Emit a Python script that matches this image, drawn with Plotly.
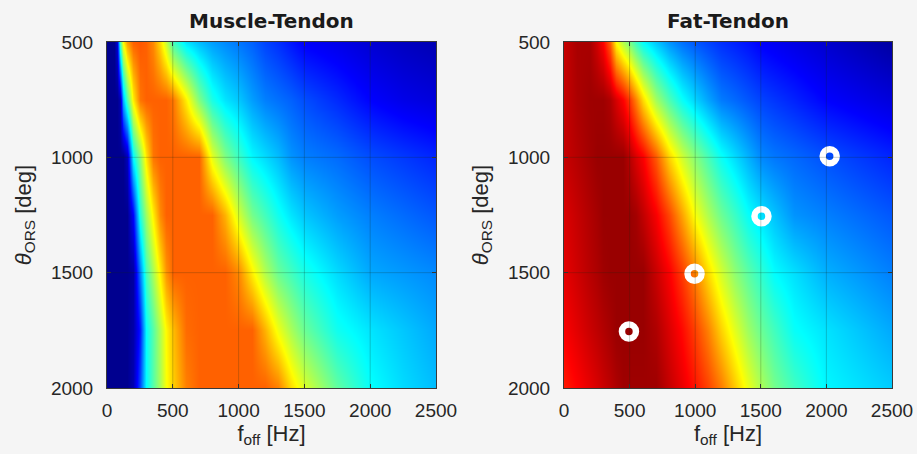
import plotly.graph_objects as go

# ---------------- data ----------------
theta_rows = [500, 750, 1000, 1250, 1500, 1750, 2000]

# Muscle-Tendon (normalized colour value 0..1 on a jet scale)
mt_f = [0, 50, 75, 100, 125, 150, 200, 250, 300, 350, 400, 450, 500, 600, 700,
        800, 900, 1000, 1100, 1200, 1300, 1400, 1500, 1750, 2000, 2250, 2500]
mt_500 = [0, 0, 0.08, 0.45, 0.63, 0.72, 0.78, 0.79, 0.78, 0.74, 0.66, 0.57, 0.44, 0.35, 0.31,
          0.28, 0.26, 0.24, 0.22, 0.19, 0.17, 0.145, 0.12, 0.10, 0.075, 0.055, 0.04]
mt_750 = [0, 0, 0, 0.04, 0.30, 0.45, 0.64, 0.76, 0.78, 0.78, 0.78, 0.78, 0.76, 0.64, 0.50,
          0.40, 0.35, 0.32, 0.28, 0.25, 0.235, 0.22, 0.20, 0.165, 0.125, 0.10, 0.085]
mt_1000 = [0, 0, 0, 0, 0, 0.05, 0.375, 0.51, 0.65, 0.76, 0.78, 0.78, 0.78, 0.78, 0.78,
           0.60, 0.50, 0.43, 0.37, 0.34, 0.31, 0.27, 0.25, 0.23, 0.20, 0.18, 0.16]
mt_1250 = [0, 0, 0, 0, 0, 0, 0.125, 0.41, 0.53, 0.64, 0.74, 0.78, 0.78, 0.78, 0.78,
           0.78, 0.70, 0.58, 0.49, 0.44, 0.39, 0.35, 0.32, 0.28, 0.25, 0.23, 0.21]
mt_1500 = [0, 0, 0, 0, 0, 0, 0.02, 0.25, 0.44, 0.54, 0.64, 0.73, 0.78, 0.78, 0.78,
           0.78, 0.78, 0.74, 0.64, 0.55, 0.48, 0.44, 0.40, 0.34, 0.29, 0.275, 0.26]
mt_1750 = [0, 0, 0, 0, 0, 0, 0.03, 0.15, 0.375, 0.46, 0.55, 0.63, 0.69, 0.77, 0.78,
           0.78, 0.78, 0.78, 0.78, 0.70, 0.61, 0.54, 0.48, 0.39, 0.35, 0.32, 0.29]
mt_2000 = [0, 0, 0, 0, 0, 0, 0.04, 0.20, 0.375, 0.46, 0.54, 0.62, 0.67, 0.75, 0.78,
           0.78, 0.78, 0.78, 0.78, 0.78, 0.75, 0.66, 0.59, 0.47, 0.38, 0.34, 0.31]

# Fat-Tendon
ft_f = [0, 100, 200, 250, 300, 350, 400, 450, 500, 550, 600, 700, 800, 900, 1000,
        1100, 1200, 1300, 1400, 1500, 1600, 1750, 2000, 2250, 2500]
ft_500 = [0.93, 0.96, 0.96, 0.92, 0.875, 0.78, 0.625, 0.55, 0.49, 0.43, 0.375, 0.32, 0.27,
          0.235, 0.21, 0.19, 0.17, 0.155, 0.14, 0.12, 0.11, 0.095, 0.07, 0.045, 0.02]
ft_750 = [0.93, 0.957, 0.97, 0.97, 0.97, 0.954, 0.915, 0.875, 0.816, 0.746, 0.659, 0.534,
          0.451, 0.382, 0.333, 0.287, 0.246, 0.228, 0.209, 0.19, 0.177, 0.158, 0.125, 0.105, 0.085]
ft_1000 = [0.93, 0.948, 0.966, 0.975, 0.975, 0.975, 0.975, 0.975, 0.943, 0.91, 0.878, 0.787,
           0.667, 0.579, 0.507, 0.445, 0.384, 0.34, 0.299, 0.258, 0.242, 0.227, 0.203, 0.181, 0.16]
ft_1250 = [0.91, 0.932, 0.953, 0.964, 0.975, 0.975, 0.975, 0.975, 0.975, 0.964, 0.936, 0.881,
           0.807, 0.715, 0.618, 0.546, 0.482, 0.431, 0.38, 0.347, 0.316, 0.27, 0.25, 0.23, 0.21]
ft_1500 = [0.90, 0.923, 0.946, 0.957, 0.969, 0.975, 0.975, 0.975, 0.975, 0.975, 0.975, 0.929,
           0.88, 0.818, 0.746, 0.659, 0.583, 0.514, 0.464, 0.42, 0.375, 0.345, 0.298, 0.274, 0.25]
ft_1750 = [0.88, 0.904, 0.928, 0.94, 0.951, 0.963, 0.975, 0.975, 0.975, 0.975, 0.975, 0.954,
           0.911, 0.867, 0.813, 0.748, 0.669, 0.595, 0.53, 0.479, 0.439, 0.381, 0.348, 0.319, 0.29]
ft_2000 = [0.85, 0.875, 0.90, 0.914, 0.928, 0.942, 0.956, 0.97, 0.97, 0.97, 0.97, 0.97,
           0.933, 0.897, 0.856, 0.81, 0.754, 0.678, 0.606, 0.544, 0.49, 0.438, 0.369, 0.347, 0.325]

# measurement markers on the Fat-Tendon map
marker_f = [495, 995, 1505, 2025]
marker_theta = [1755, 1505, 1255, 995]

x_ticks = [0, 500, 1000, 1500, 2000, 2500]
y_ticks = [500, 1000, 1500, 2000]
titles = ["Muscle-Tendon", "Fat-Tendon"]

# ---------------- figure ----------------
jet = [[0.0, "#00008f"], [0.125, "#0000ff"], [0.375, "#00ffff"],
       [0.625, "#ffff00"], [0.875, "#ff0000"], [1.0, "#800000"]]

mt_z = [mt_500, mt_750, mt_1000, mt_1250, mt_1500, mt_1750, mt_2000]
ft_z = [ft_500, ft_750, ft_1000, ft_1250, ft_1500, ft_1750, ft_2000]

fig = go.Figure()
fig.add_trace(go.Heatmap(x=mt_f, y=theta_rows, z=mt_z, colorscale=jet, zmin=0, zmax=1,
                         zsmooth="best", showscale=False, xaxis="x", yaxis="y"))
fig.add_trace(go.Heatmap(x=ft_f, y=theta_rows, z=ft_z, colorscale=jet, zmin=0, zmax=1,
                         zsmooth="best", showscale=False, xaxis="x2", yaxis="y2"))
fig.add_trace(go.Scatter(x=marker_f, y=marker_theta, mode="markers",
                         marker=dict(symbol="circle-open", size=14, color="white",
                                     line=dict(color="white", width=6.5)),
                         xaxis="x2", yaxis="y2", showlegend=False))

font_fam = "Liberation Sans, Arial, sans-serif"
tick_font = dict(family=font_fam, size=19, color="#262626")
axcol = "#3a3a3a"

def xaxis(domain, anchor):
    return dict(domain=domain, anchor=anchor, range=[0, 2500], tickvals=x_ticks,
                ticktext=[str(v) for v in x_ticks], ticks="inside", ticklen=4,
                tickcolor=axcol, showline=True, linecolor=axcol, linewidth=1,
                mirror="ticks", showgrid=False, zeroline=False, tickfont=tick_font,
                ticklabelstandoff=5, automargin=False,
                title=dict(text="f<sub>off</sub> [Hz]",
                           font=dict(family=font_fam, size=22, color="#262626"),
                           standoff=2))

def yaxis(domain, anchor):
    return dict(domain=domain, anchor=anchor, range=[2000, 500], tickvals=y_ticks,
                ticktext=[str(v) for v in y_ticks], ticks="inside", ticklen=4,
                tickcolor=axcol, showline=True, linecolor=axcol, linewidth=1,
                mirror="ticks", showgrid=False, zeroline=False, tickfont=tick_font,
                ticklabelstandoff=9, automargin=False,
                title=dict(text="<i>θ</i><sub>ORS</sub> [deg]",
                           font=dict(family=font_fam, size=22, color="#262626"),
                           standoff=13))

W, H = 917, 454
xd1 = [107 / W, 436 / W]
xd2 = [564 / W, 892 / W]
yd = [1 - 388 / H, 1 - 42 / H]

shapes = []
for xr, yr in (("x", "y"), ("x2", "y2")):
    for xv in x_ticks[1:-1]:
        shapes.append(dict(type="line", xref=xr, yref=yr, x0=xv, x1=xv,
                           y0=y_ticks[0], y1=y_ticks[-1], layer="above",
                           line=dict(color="rgba(20,40,20,0.22)", width=1)))
    for yv in y_ticks[1:-1]:
        shapes.append(dict(type="line", xref=xr, yref=yr, y0=yv, y1=yv,
                           x0=x_ticks[0], x1=x_ticks[-1], layer="above",
                           line=dict(color="rgba(20,40,20,0.22)", width=1)))

annotations = []
for t, d in zip(titles, (xd1, xd2)):
    annotations.append(dict(text="<b>" + t + "</b>", x=(d[0] + d[1]) / 2, y=1 - 21 / H,
                            xref="paper", yref="paper", showarrow=False,
                            xanchor="center", yanchor="middle",
                            font=dict(family="DejaVu Sans, sans-serif", size=20,
                                      color="#1a1a1a")))

fig.update_layout(
    width=W, height=H, margin=dict(l=0, r=0, t=0, b=0),
    paper_bgcolor="#f5f5f5", plot_bgcolor="#f5f5f5",
    xaxis=xaxis(xd1, "y"), yaxis=yaxis(yd, "x"),
    xaxis2=xaxis(xd2, "y2"), yaxis2=yaxis(yd, "x2"),
    shapes=shapes, annotations=annotations, showlegend=False,
)

fig.write_html("out.html")
